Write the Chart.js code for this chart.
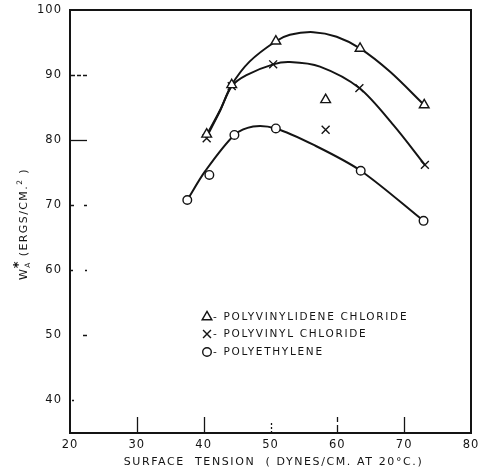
<!DOCTYPE html>
<html>
<head>
<meta charset="utf-8">
<title>Work of adhesion vs. surface tension</title>
<script src="https://cdn.jsdelivr.net/npm/chart.js"></script>
<style>
  body { margin: 0; background: #fff; }
  canvas { display: block; }
</style>
</head>
<body>
<canvas id="chart" width="478" height="475"></canvas>
<script>
// measured points: surface tension (dynes/cm at 20 C) against W_A* (ergs/cm2)
const pvdcX = [40.45, 44.2, 50.8, 58.25, 63.4, 73.0];
const pvdcY = [80.9, 88.5, 95.2, 86.2, 94.1, 85.4];
const pvcX = [40.45, 44.2, 50.4, 58.25, 63.3, 73.1];
const pvcY = [80.3, 88.3, 91.65, 81.6, 88.0, 76.2];
const peX = [37.55, 40.85, 44.6, 50.8, 63.5, 72.9];
const peY = [70.8, 74.65, 80.8, 81.8, 75.3, 67.6];

// the smooth curves drawn through each set, traced along their length
const pvdcFitX = [40.45, 42.45, 44.2, 46.9, 50.8, 52.9, 56.4, 59.9, 63.4, 67.9, 73.0];
const pvdcFitY = [80.8, 84.6, 88.5, 92.1, 95.2, 96.2, 96.6, 95.9, 94.1, 90.5, 85.4];
const pvcFitX = [40.45, 42.4, 44.2, 46.4, 50.4, 52.9, 57.4, 63.3, 68.4, 73.1];
const pvcFitY = [80.5, 84.4, 88.3, 90.0, 91.65, 92.0, 91.3, 88.0, 82.3, 76.2];
const peFitX = [37.55, 40.2, 44.6, 47.4, 50.8, 56.4, 63.5, 72.9];
const peFitY = [70.8, 75.2, 80.8, 82.1, 81.8, 79.3, 75.3, 67.6];

const seriesNames = ['POLYVINYLIDENE CHLORIDE', 'POLYVINYL CHLORIDE', 'POLYETHYLENE'];
const xTicks = [20, 30, 40, 50, 60, 70, 80];
const yTicks = [40, 50, 60, 70, 80, 90, 100];
const xTitle = 'SURFACE  TENSION  ( DYNES/CM. AT 20°C.)';

const ink = '#141414';
const font = '"DejaVu Sans", sans-serif';

const pts = (xs, ys) => xs.map((x, i) => ({ x: x, y: ys[i] }));

function marks(label, data, style, r) {
  return {
    label: label, data: data, showLine: false,
    pointStyle: style, pointRadius: r, pointBorderWidth: 1.4,
    pointBorderColor: ink, pointBackgroundColor: '#fff',
    borderColor: ink, backgroundColor: '#fff', borderWidth: 1.4
  };
}
function line(data) {
  return { data: data, showLine: true, tension: 0.3, pointRadius: 0, borderColor: ink, borderWidth: 2, fill: false };
}

// broken-up tick marks, the way the old print shows them
const yTickDash = { 90: [5, 2, 4, 2, 5, 20], 70: [4, 10, 5, 20], 60: [3, 12, 4, 20], 50: [0, 13, 4, 20], 40: [0, 2, 2, 14, 2, 20] };
const xTickDash = { 50: [2, 2, 2, 2, 2, 20], 60: [8, 3, 6, 20] };

function drawMarker(ctx, ds, x, y) {
  ctx.save();
  ctx.lineWidth = ds.pointBorderWidth;
  ctx.strokeStyle = ds.pointBorderColor;
  ctx.fillStyle = ds.pointBackgroundColor;
  Chart.helpers.drawPoint(ctx, { pointStyle: ds.pointStyle, radius: ds.pointRadius, rotation: 0, borderWidth: ds.pointBorderWidth }, x, y);
  ctx.restore();
}

const paper = {
  id: 'paper',
  beforeDraw(chart) {
    chart.ctx.letterSpacing = '1px';
  },
  afterDraw(chart) {
    const { ctx, chartArea: a, scales } = chart;
    ctx.save();
    ctx.letterSpacing = '0px';
    ctx.strokeStyle = ink;
    ctx.fillStyle = ink;

    // plot frame
    ctx.lineWidth = 2;
    ctx.strokeRect(a.left, a.top, a.right - a.left, a.bottom - a.top);

    // inward ticks
    ctx.lineWidth = 1.3;
    yTicks.forEach(v => {
      if (v === 100) return;
      const py = Math.round(scales.y.getPixelForValue(v)) + 0.5;
      ctx.setLineDash(yTickDash[v] || []);
      ctx.beginPath(); ctx.moveTo(a.left, py); ctx.lineTo(a.left + 17, py); ctx.stroke();
    });
    xTicks.forEach(v => {
      if (v === 20 || v === 80) return;
      const px = Math.round(scales.x.getPixelForValue(v)) + 0.5;
      ctx.setLineDash(xTickDash[v] || []);
      ctx.beginPath(); ctx.moveTo(px, a.bottom); ctx.lineTo(px, a.bottom - 16); ctx.stroke();
    });
    ctx.setLineDash([]);

    // x title
    ctx.font = '11px ' + font;
    ctx.letterSpacing = '1.6px';
    ctx.textAlign = 'center';
    ctx.textBaseline = 'middle';
    ctx.fillText(xTitle, (a.left + a.right) / 2 + 3, 462);

    // y title: W with subscript A and star, then units with squared cm
    ctx.save();
    ctx.translate(27, 224);
    ctx.rotate(-Math.PI / 2);
    ctx.textAlign = 'left';
    ctx.textBaseline = 'alphabetic';
    ctx.letterSpacing = '1.4px';
    const big = '11px ' + font, small = '7.5px ' + font;
    const body = ' (ERGS/CM.';
    ctx.font = big; const wW = ctx.measureText('W').width, wBody = ctx.measureText(body).width, wEnd = ctx.measureText(' )').width;
    ctx.font = small; const wA = ctx.measureText('A').width, w2 = ctx.measureText('2').width;
    let tx = -(wW + wA + wBody + w2 + wEnd) / 2;
    ctx.font = big; ctx.fillText('W', tx, 0); tx += wW;
    ctx.font = small; ctx.fillText('A', tx, 2.5);
    ctx.font = 'bold 13px ' + font; ctx.fillText('*', tx - 0.5, -5);
    tx += wA;
    ctx.font = big; ctx.fillText(body, tx, 0); tx += wBody;
    ctx.font = small; ctx.fillText('2', tx, -5.5); tx += w2;
    ctx.font = big; ctx.fillText(' )', tx, 0);
    ctx.restore();

    // key inside the plot
    ctx.font = '10.5px ' + font;
    ctx.letterSpacing = '1.7px';
    ctx.textAlign = 'left';
    ctx.textBaseline = 'middle';
    const rows = [317, 334, 352];
    chart.data.datasets.slice(0, 3).forEach((ds, i) => {
      drawMarker(ctx, ds, 207, rows[i]);
      ctx.fillText('- ' + ds.label, 213, rows[i] + 0.5);
    });
    ctx.restore();
  }
};

new Chart(document.getElementById('chart').getContext('2d'), {
  type: 'scatter',
  data: {
    datasets: [
      marks(seriesNames[0], pts(pvdcX, pvdcY), 'triangle', 5.6),
      marks(seriesNames[1], pts(pvcX, pvcY), 'crossRot', 5.6),
      marks(seriesNames[2], pts(peX, peY), 'circle', 4.3),
      line(pts(pvdcFitX, pvdcFitY)),
      line(pts(pvcFitX, pvcFitY)),
      line(pts(peFitX, peFitY))
    ]
  },
  options: {
    responsive: false,
    animation: false,
    devicePixelRatio: 1,
    events: [],
    layout: { padding: { top: 10, right: 7, bottom: 0, left: 0 } },
    plugins: { legend: { display: false }, tooltip: { enabled: false } },
    scales: {
      x: {
        type: 'linear', min: 20, max: 80,
        afterBuildTicks: s => { s.ticks = xTicks.map(v => ({ value: v })); },
        afterFit: s => { s.height = 42; s.paddingLeft = 0; s.paddingRight = 0; },
        grid: { display: false, drawTicks: false },
        border: { display: false },
        ticks: { color: ink, padding: 5, maxRotation: 0, autoSkip: false, font: { family: font, size: 11.5 } }
      },
      y: {
        type: 'linear', min: 35, max: 100,
        afterBuildTicks: s => { s.ticks = yTicks.map(v => ({ value: v })); },
        afterFit: s => { s.width = 70; s.paddingTop = 0; s.paddingBottom = 0; },
        grid: { display: false, drawTicks: false },
        border: { display: false },
        ticks: { color: ink, padding: 8, autoSkip: false, font: { family: font, size: 11.5 } }
      }
    }
  },
  plugins: [paper]
});
</script>
</body>
</html>
